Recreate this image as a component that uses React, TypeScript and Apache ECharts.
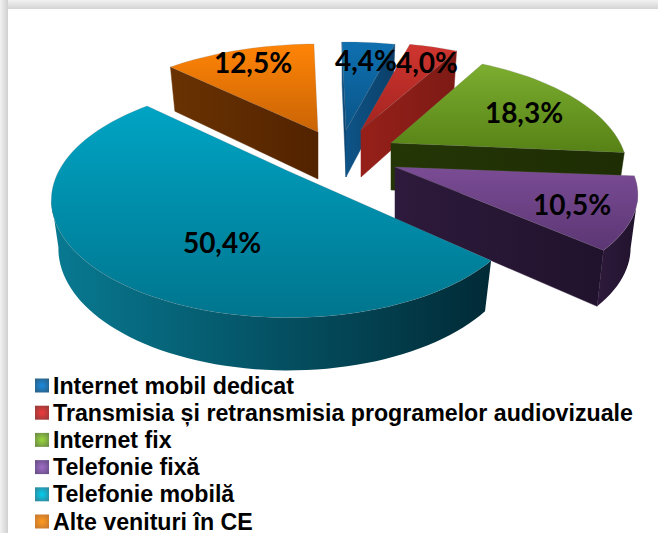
import React, { useEffect, useRef } from "react";
import * as echarts from "echarts";

const categories = [
  "Internet mobil dedicat",
  "Transmisia și retransmisia programelor audiovizuale",
  "Internet fix",
  "Telefonie fixă",
  "Telefonie mobilă",
  "Alte venituri în CE",
];
const values = [4.4, 4.0, 18.3, 10.5, 50.4, 12.5];
const valueLabels = ["4,4%", "4,0%", "18,3%", "10,5%", "50,4%", "12,5%"];

// style + layout tables
const topColors = [
  ["#0f70b0", "#0a5588"],
  ["#d0352f", "#a32420"],
  ["#7cae30", "#578216"],
  ["#7a4c94", "#5c3674"],
  ["#00a4c4", "#00758e"],
  ["#ff8406", "#c96405"],
];
const sideColors = [
  ["#0e5488", "#0b3f68"],
  ["#962019", "#7d1a15"],
  ["#243606", "#1e2d04"],
  ["#2e1a3c", "#20122c"],
  ["#087a92", "#012a36"],
  ["#6a3202", "#522300"],
];
const legendDot = ["#1a8ae0", "#f03a3a", "#9ad83a", "#a06cc8", "#00cfef", "#ff9a1e"];
const legendEdge = ["#2a6288", "#9a3c3c", "#6f8f48", "#6a5088", "#2f8a9e", "#c87a30"];
const apex: [number, number][] = [
  [346, 130], [361, 130], [391, 143], [395, 167], [288, 171], [318, 132],
];
const scaleX = [1, 1, 0.955, 0.98, 0.955, 1];
const scaleY = [1, 1, 1, 0.93, 1, 1];
const thickness = [47, 47, 47, 52, 47, 47];
const labelAt: [number, number][] = [
  [366, 60], [427, 62], [524, 112], [572, 204], [222, 242], [253, 62],
];
const drawOrder = [5, 0, 1, 2, 3, 4];

const RX = 240, RY = 110, DEPTH = 4, ROTATION = -1.2;

const total = values.reduce((a, b) => a + b, 0);
const startAngle = values.map((_, i) => ROTATION + values.slice(0, i).reduce((a, b) => a + b, 0) / total * 360);

function project(i: number, deg: number) {
  const t = (deg * Math.PI) / 180;
  const a = Math.sin(t), b = Math.cos(t);
  const s = DEPTH / (DEPTH + b);
  return { x: apex[i][0] + RX * scaleX[i] * a * s, y: apex[i][1] - RY * scaleY[i] * b * s, s };
}
function lower(i: number, p: { x: number; y: number; s: number }): [number, number] {
  return [apex[i][0] + (p.x - apex[i][0]) * 0.97, p.y + thickness[i] * Math.pow(p.s, 0.4)];
}
function sideGradient(c: string[], x2: number, y2: number) {
  return new echarts.graphic.LinearGradient(0, 0, x2, y2, [
    { offset: 0, color: c[0] },
    { offset: 1, color: c[1] },
  ]);
}

function sliceItem(i: number) {
  const a0 = startAngle[i];
  const a1 = a0 + (values[i] / total) * 360;
  const steps = Math.max(8, Math.round((a1 - a0) / 2));
  const arc = [];
  for (let k = 0; k <= steps; k++) arc.push(project(i, a0 + ((a1 - a0) * k) / steps));
  const ap = { x: apex[i][0], y: apex[i][1], s: 1 };
  const children: any[] = [];
  const face = (p: any, q: any, fill: any) => ({
    type: "polygon",
    shape: { points: [[p.x, p.y], [q.x, q.y], lower(i, q), lower(i, p)] },
    style: { fill, stroke: fill, lineWidth: 0.5 },
  });
  const side = sideGradient(sideColors[i], 1, 0);
  const first = arc[0], last = arc[arc.length - 1];
  if (first.x < ap.x) children.push(face(ap, first, side));
  if (last.x > ap.x) children.push(face(last, ap, side));
  const vis: any[] = [];
  for (let k = 0; k < steps; k++) {
    if (arc[k + 1].x < arc[k].x) {
      if (!vis.length) vis.push(arc[k]);
      vis.push(arc[k + 1]);
    }
  }
  if (vis.length) {
    const pts = vis.map((p) => [p.x, p.y]).concat(vis.slice().reverse().map((p) => lower(i, p)));
    children.push({
      type: "polygon",
      shape: { points: pts },
      style: { fill: sideGradient(sideColors[i], 1, 0), stroke: "none" },
    });
  }
  children.push({
    type: "polygon",
    shape: { points: [[ap.x, ap.y], ...arc.map((p) => [p.x, p.y])] },
    style: { fill: sideGradient(topColors[i], 0, 1), stroke: "rgba(120,120,120,0.35)", lineWidth: 0.6 },
  });
  return { type: "group", children };
}

export default function App() {
  const ref = useRef<HTMLDivElement>(null);
  useEffect(() => {
    const chart = echarts.init(ref.current!, undefined, { renderer: "svg" });
    chart.setOption({
      animation: false,
      backgroundColor: "#ffffff",
      graphic: [
        {
          type: "rect", shape: { x: 0, y: 0, width: 658, height: 9 }, silent: true, z: -1,
          style: { fill: new echarts.graphic.LinearGradient(0, 0, 0, 1, [
            { offset: 0, color: "#f2f2f2" }, { offset: 1, color: "#d4d4d4" },
          ]) },
        },
        {
          type: "rect", shape: { x: 0, y: 0, width: 8, height: 533 }, silent: true, z: -1,
          style: { fill: new echarts.graphic.LinearGradient(0, 0, 1, 0, [
            { offset: 0, color: "#f2f2f2" }, { offset: 1, color: "#d0d0d0" },
          ]) },
        },
      ],
      legend: {
        orient: "vertical",
        left: 30,
        top: 368,
        height: 175,
        itemWidth: 14,
        itemHeight: 14,
        itemGap: 2.2,
        icon: "rect",
        selectedMode: false,
        textStyle: {
          fontFamily: "Liberation Sans",
          fontWeight: "bold",
          fontSize: 23.2,
          color: "#000",
          padding: [0, 0, 0, -1],
          lineHeight: 25,
        },
        data: categories.map((name, i) => ({
          name,
          itemStyle: {
            color: new echarts.graphic.RadialGradient(0.5, 0.5, 0.6, [
              { offset: 0, color: legendDot[i] },
              { offset: 1, color: legendEdge[i] },
            ]),
          },
        })),
      },
      series: [
        ...drawOrder.map((i) => ({
          type: "custom",
          name: categories[i],
          coordinateSystem: "none",
          data: [values[i]],
          silent: true,
          z: 2,
          renderItem: () => sliceItem(i),
        })),
        {
          type: "custom",
          name: "labels",
          coordinateSystem: "none",
          data: values,
          silent: true,
          z: 5,
          renderItem: (params: any) => ({
            type: "text",
            style: {
              text: valueLabels[params.dataIndex],
              x: labelAt[params.dataIndex][0],
              y: labelAt[params.dataIndex][1],
              align: "center",
              verticalAlign: "middle",
              fill: "#000",
              font: "bold 28px Lato",
            },
          }),
        },
      ],
    });
    return () => chart.dispose();
  }, []);
  return <div ref={ref} style={{ position: "absolute", left: 0, top: 0, width: 658, height: 533 }} />;
}
